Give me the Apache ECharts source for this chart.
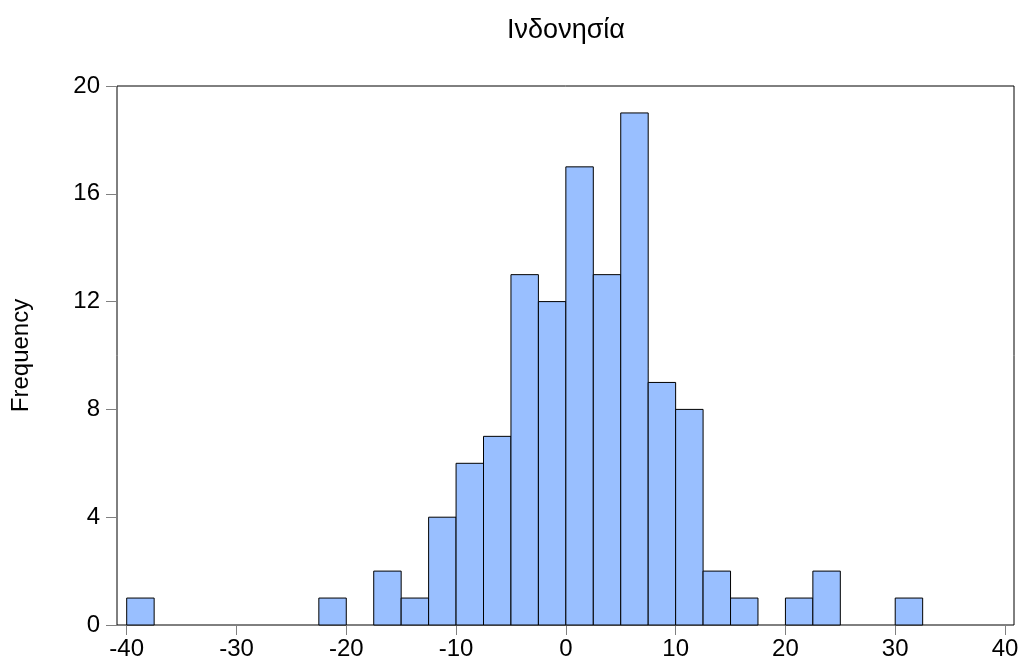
<!DOCTYPE html>
<html>
<head>
<meta charset="utf-8">
<script src="https://cdn.jsdelivr.net/npm/echarts@6/dist/echarts.min.js"></script>
<style>
  html, body { margin: 0; padding: 0; background: #fff; }
  #chart { width: 1024px; height: 669px; }
</style>
</head>
<body>
<div id="chart"></div>
<script>
// Histogram of Ινδονησία: left edge of each bin and its count (bins 2.5 wide)
const chartTitle = 'Ινδονησία';
const yName = 'Frequency';
const binWidth = 2.5;
const binStart = [-40, -22.5, -17.5, -15, -12.5, -10, -7.5, -5, -2.5, 0, 2.5, 5, 7.5, 10, 12.5, 15, 20, 22.5, 30];
const counts   = [1,   1,     2,     1,   4,     6,   7,    13, 12,   17, 13,  19, 9,   8,  2,    1,  1,  2,    1];
const xTicks = [-40, -30, -20, -10, 0, 10, 20, 30, 40];
const yTicks = [0, 4, 8, 12, 16, 20];

const font = "'Liberation Sans', Arial, sans-serif";
const chart = echarts.init(document.getElementById('chart'), null, { renderer: 'canvas' });

const data = binStart.map((s, i) => [s, counts[i]]);
const yMin = yTicks[0];
const yMax = yTicks[yTicks.length - 1];

chart.setOption({
  animation: false,
  backgroundColor: '#ffffff',
  graphic: [{
    type: 'text',
    x: 566, y: 31,
    style: {
      text: chartTitle,
      font: '27px ' + font,
      fill: '#000',
      textAlign: 'center',
      textVerticalAlign: 'middle'
    }
  }],
  grid: [
    // outer frame of the plot, carries the frequency axis
    { left: 117, top: 86, width: 897, height: 539, show: true, borderColor: '#000', borderWidth: 1,
      backgroundColor: 'transparent', containLabel: false, outerBoundsMode: 'none' },
    // data area: -40 .. 40
    { left: 126.7, top: 86, width: 878.3, height: 539, containLabel: false, outerBoundsMode: 'none' }
  ],
  xAxis: [
    { gridIndex: 0, type: 'value', show: false, min: 0, max: 1 },
    {
      gridIndex: 1, type: 'value', min: xTicks[0], max: xTicks[xTicks.length - 1], interval: 10,
      axisLine: { show: false },
      axisTick: { show: true, length: 10, lineStyle: { color: '#808080', width: 1 } },
      splitLine: { show: false },
      axisLabel: { fontFamily: font, fontSize: 24, color: '#000', margin: 12 }
    }
  ],
  yAxis: [
    {
      gridIndex: 0, type: 'value', min: yMin, max: yMax, interval: 4,
      axisLine: { show: false },
      axisTick: { show: true, length: 11, lineStyle: { color: '#808080', width: 1 } },
      splitLine: { show: false },
      axisLabel: { fontFamily: font, fontSize: 24, color: '#000', margin: 17 },
      name: yName,
      nameLocation: 'middle',
      nameRotate: 90,
      nameGap: 84,
      nameTextStyle: { fontFamily: font, fontSize: 24, color: '#000' }
    },
    { gridIndex: 1, type: 'value', show: false, min: yMin, max: yMax }
  ],
  series: [{
    type: 'custom',
    xAxisIndex: 1,
    yAxisIndex: 1,
    data: data,
    renderItem: function (params, api) {
      const x0 = api.value(0);
      const h = api.value(1);
      const pTop = api.coord([x0, h]);
      const pBot = api.coord([x0 + binWidth, 0]);
      return {
        type: 'rect',
        shape: { x: pTop[0], y: pTop[1], width: pBot[0] - pTop[0], height: pBot[1] - pTop[1] },
        style: { fill: '#99BFFF', stroke: '#000', lineWidth: 1 }
      };
    }
  }]
});
</script>
</body>
</html>
